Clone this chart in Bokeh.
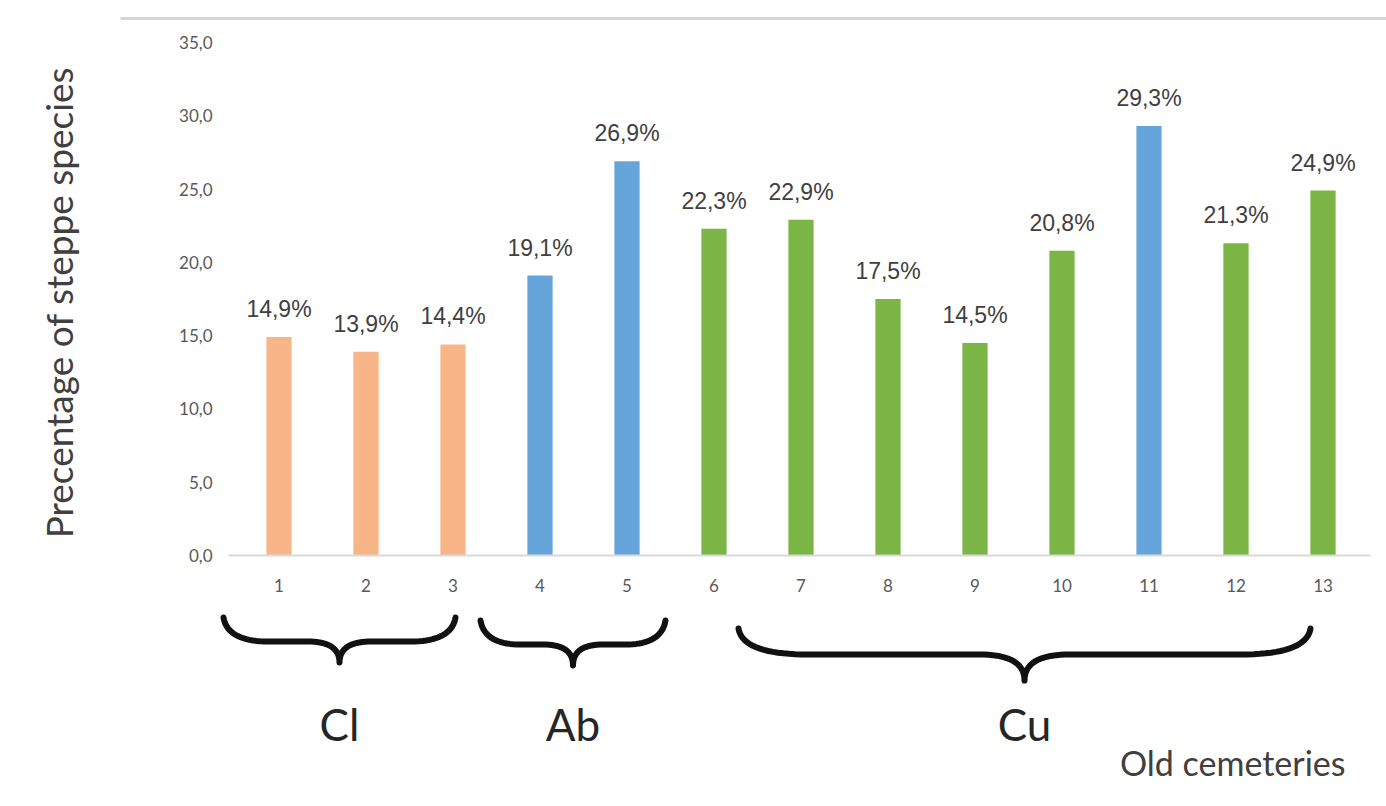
import numpy as np
from bokeh.plotting import figure
from bokeh.models import Range1d, FixedTicker, ColumnDataSource
from bokeh.core.properties import value
from bokeh.embed import file_html
from bokeh.resources import INLINE

# ---------------- data ----------------
cemeteries = [1, 2, 3, 4, 5, 6, 7, 8, 9, 10, 11, 12, 13]
steppe_pct = [14.9, 13.9, 14.4, 19.1, 26.9, 22.3, 22.9, 17.5, 14.5, 20.8, 29.3, 21.3, 24.9]
bar_color_key = ["orange", "orange", "orange", "blue", "blue", "green", "green",
                 "green", "green", "green", "blue", "green", "green"]
y_ticks = [0, 5, 10, 15, 20, 25, 30, 35]
y_tick_labels = ["0,0", "5,0", "10,0", "15,0", "20,0", "25,0", "30,0", "35,0"]
group_names = ["Cl", "Ab", "Cu"]
group_first = [1, 4, 6]
group_last = [3, 5, 13]

# ---------------- style ----------------
palette = {"orange": "#F8B588", "blue": "#66A5DA", "green": "#7AB546"}
bar_colors = [palette[k] for k in bar_color_key]
pct_labels = [f"{v:.1f}".replace(".", ",") + "%" for v in steppe_pct]

W, H = 1386, 806
# pixel geometry of the reference
X0_PX, CAT_PX = 235.0, 87.0          # left edge of category 1 band, band width
Y0_PX, UNIT_PX = 555.0, 513.0 / 35.0  # baseline pixel, pixels per percent

def dx(px):
    return (px - X0_PX) / CAT_PX + 0.5

def dy(py):
    return (Y0_PX - py) / UNIT_PX

p = figure(width=W, height=H, x_range=Range1d(dx(0), dx(W)), y_range=Range1d(dy(H), dy(0)),
           output_backend="svg", toolbar_location=None, min_border=0, tools="")
p.outline_line_color = None
p.xgrid.visible = False
p.ygrid.visible = False
p.background_fill_color = "white"
p.border_fill_color = "white"

# bars
src = ColumnDataSource(dict(x=cemeteries, top=steppe_pct, color=bar_colors, label=pct_labels))
p.vbar(x="x", top="top", bottom=0, width=0.29, fill_color="color", line_color=None, source=src)

# data labels
p.text(x="x", y="top", text="label", source=src, text_align="center", text_baseline="middle",
       y_offset=-28, text_font=value("Liberation Sans"), text_font_size="23px", text_color="#404040")

# x axis at y = 0
xa = p.xaxis[0]
xa.fixed_location = 0
xa.ticker = FixedTicker(ticks=cemeteries)
xa.bounds = (dx(228), dx(1370))
xa.axis_line_color = "#D9D9D9"
xa.axis_line_width = 2
xa.major_tick_line_color = None
xa.minor_tick_line_color = None
xa.major_tick_in = 0
xa.major_tick_out = 0
xa.major_label_standoff = 23
xa.major_label_text_font = "Lato"
xa.major_label_text_font_size = "17px"
xa.major_label_text_color = "#595959"

# y axis at the left edge of the bar area
ya = p.yaxis[0]
ya.fixed_location = 0.5
ya.ticker = FixedTicker(ticks=y_ticks)
ya.major_label_overrides = {t: lab for t, lab in zip(y_ticks, y_tick_labels)}
ya.axis_line_color = None
ya.major_tick_line_color = None
ya.minor_tick_line_color = None
ya.major_tick_in = 0
ya.major_tick_out = 0
ya.major_label_standoff = 23
ya.major_label_text_font = "Lato"
ya.major_label_text_font_size = "17px"
ya.major_label_text_color = "#595959"

# y axis title
p.text(x=[dx(58)], y=[dy(302)], text=["Precentage of steppe species"], angle=np.pi / 2,
       text_align="center", text_baseline="middle", text_font=value("Lato"),
       text_font_size="37px", text_color="#404040")

# braces under the groups
def qbez(p0, c, p1, n=20):
    t = np.linspace(0, 1, n)[:, None]
    pts = (1 - t) ** 2 * np.array(p0) + 2 * (1 - t) * t * np.array(c) + t ** 2 * np.array(p1)
    return pts

brace_px = {  # left px, right px, top py, mid py, tip py, end radius px, tip radius px
    "Cl": (223, 455, 617, 641, 662, 45, 32),
    "Ab": (480, 665, 620, 644, 665, 40, 30),
    "Cu": (738, 1310, 628, 654, 680, 70, 45),
}
bx, by, label_x = [], [], []
for name, g0, g1 in zip(group_names, group_first, group_last):
    L, R, T, M, TP, r, rt = brace_px[name]
    C = (L + R) / 2
    pts = np.vstack([
        qbez((L, T), (L + 4, M), (L + r, M)),
        qbez((C - rt, M), (C, M), (C, TP)),
        qbez((C, TP), (C, M), (C + rt, M)),
        qbez((R - r, M), (R - 4, M), (R, T)),
    ])
    bx.append([dx(v) for v in pts[:, 0]])
    by.append([dy(v) for v in pts[:, 1]])
    label_x.append(dx(C))
p.multi_line(xs=bx, ys=by, line_color="#111111", line_width=6, line_cap="round", line_join="round")

p.text(x=label_x, y=[dy(723)] * 3, text=group_names, text_align="center", text_baseline="middle",
       text_font=value("Lato"), text_font_size="44px", text_color="#262626")

p.text(x=[dx(1345)], y=[dy(762)], text=["Old cemeteries"], text_align="right", text_baseline="middle",
       text_font=value("Lato"), text_font_size="34px", text_color="#404040")

# thin frame line at the top
p.segment(x0=[dx(120)], y0=[dy(18)], x1=[dx(W)], y1=[dy(18)], line_color="#D6D6D6", line_width=3)

open("out.html", "w").write(file_html(p, INLINE))
